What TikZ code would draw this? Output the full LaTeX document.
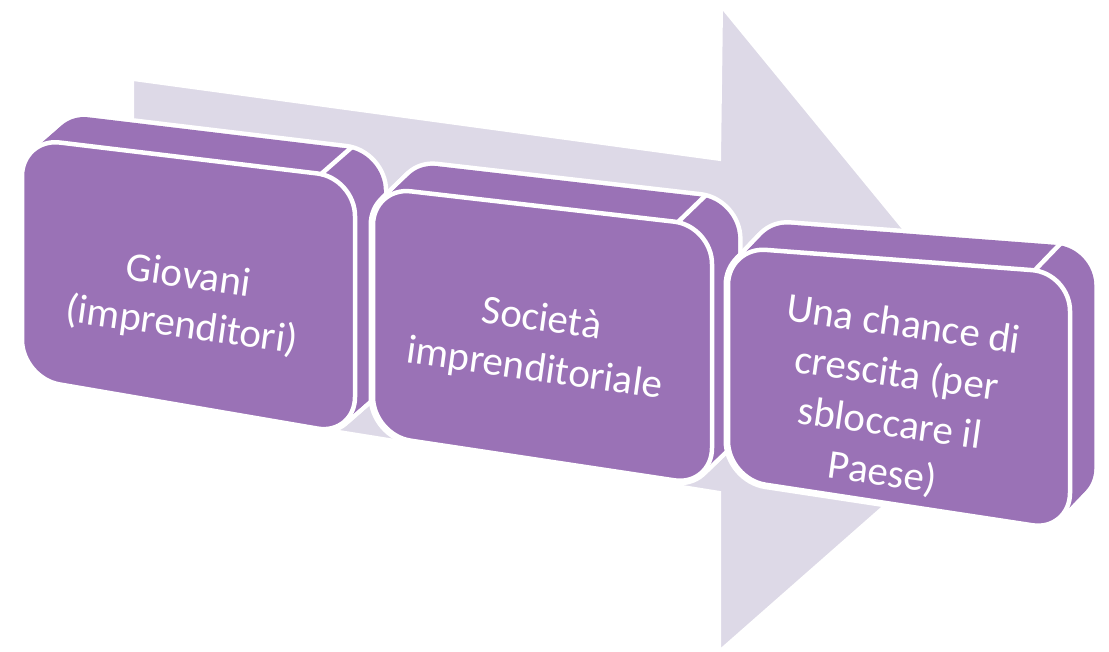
\documentclass[tikz,border=0pt]{standalone}
\usepackage{fontspec}
\setmainfont{Carlito}
\definecolor{slabpurple}{RGB}{154,114,182}
\definecolor{arrowgrey}{RGB}{221,217,231}
\begin{document}
\begin{tikzpicture}[x=1pt,y=-1pt]
    \tikzstyle{slabtext}=[text=white, align=center, inner sep=0pt, rotate=-8, font=\fontsize{41}{50}\selectfont]
    \tikzstyle{slabedge}=[draw=white, line width=4.5pt]
    \useasboundingbox (0,0) rectangle (1109,652);
    % background arrow
    \filldraw[fill=arrowgrey, draw=white, line width=2pt] (133,80) -- (720,160) -- (722,8) -- (1027,380) -- (720,650) -- (720,492) -- (133,398) -- cycle;
    % three slabs: front corners TL/TR/BR/BL, then depth offset
    \foreach \xa/\ya/\xb/\yb/\xc/\yc/\xd/\yd/\ox/\oy in {22/138/355/178/355/435/22/378/32/-28, 373/187/712/226/712/486/373/435/29/-28, 728/247/1070/273/1070/531/728/479/27/-28}{
      \foreach \t in {0,0.1,...,1}
        \draw[white, line width=9pt, rounded corners=38pt, shift={(\ox*\t,\oy*\t)}] (\xa,\ya) -- (\xb,\yb) -- (\xc,\yc) -- (\xd,\yd) -- cycle;
      \foreach \t in {0,0.1,...,1}
        \fill[slabpurple, rounded corners=38pt, shift={(\ox*\t,\oy*\t)}] (\xa,\ya) -- (\xb,\yb) -- (\xc,\yc) -- (\xd,\yd) -- cycle;
      \filldraw[fill=slabpurple, slabedge, rounded corners=38pt] (\xa,\ya) -- (\xb,\yb) -- (\xc,\yc) -- (\xd,\yd) -- cycle;
      \draw[slabedge] (\xb-35,\yb-3) -- ++(\ox,\oy);
    }
    \node[slabtext] (giovani) at (185,302) {Giovani\\(imprenditori)};
    \node[slabtext] (societa) at (538,345) {Società\\imprenditoriale};
    \node[slabtext] (chance) at (893,400) {Una chance di\\crescita (per\\sbloccare il\\Paese)};
\end{tikzpicture}
\end{document}
